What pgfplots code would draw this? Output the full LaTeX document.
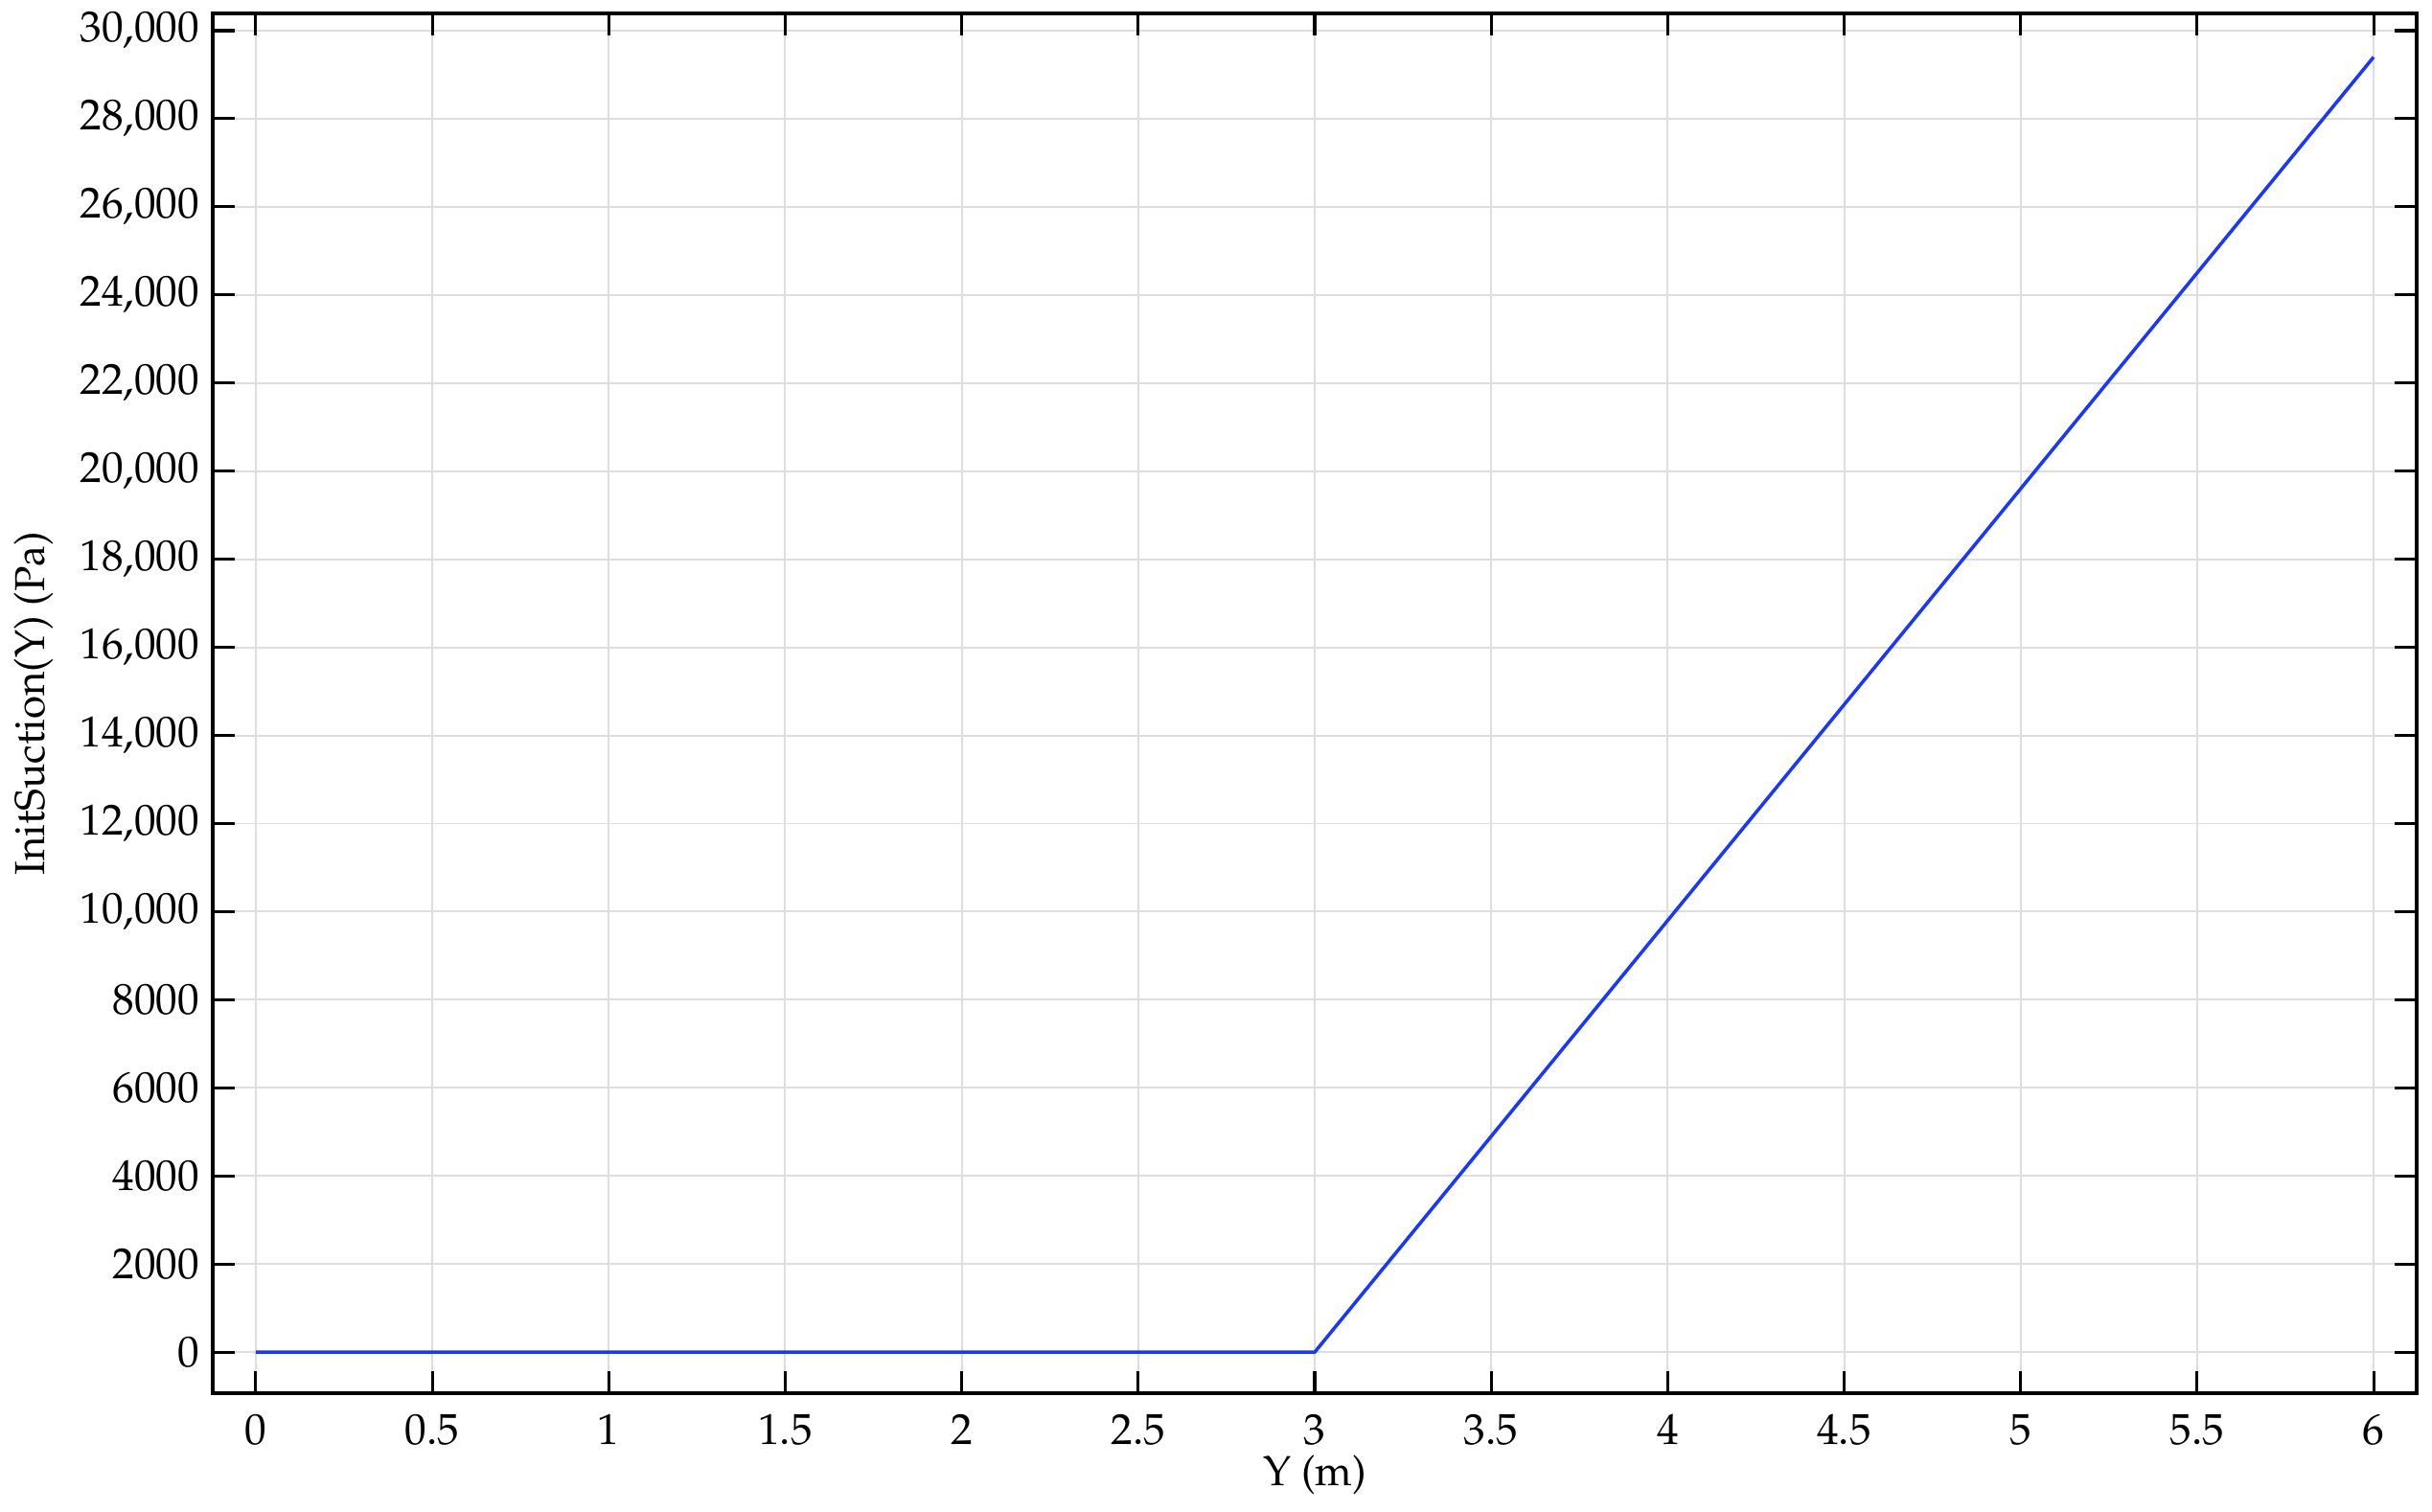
\documentclass[border=0pt]{standalone}
\usepackage[T1]{fontenc}
\usepackage{mathpazo}
\usepackage{pgfplots}
\pgfplotsset{compat=1.18}
\definecolor{lineblue}{RGB}{25,55,255}
\definecolor{gridgray}{RGB}{222,222,222}
\begin{document}
\begin{tikzpicture}
\begin{axis}[
  at={(0pt,0pt)}, anchor=south west,
  scale only axis,
  width=589pt, height=368.8pt,
  xmin=-0.122, xmax=6.122,
  ymin=-935, ymax=30390,
  xtick={0,0.5,...,6},
  ytick={0,2000,...,30000},
  scaled y ticks=false,
  /pgf/number format/assume math mode=true,
  /pgf/number format/1000 sep={,},
  /pgf/number format/min exponent for 1000 sep=4,
  tick align=inside,
  major tick length=5.9pt,
  every tick/.style={black, line width=0.8pt},
  axis line style={line width=0.9pt},
  grid=major,
  major grid style={gridgray, line width=0.5pt},
  tick label style={font=\fontsize{11.6}{13}\selectfont},
  xticklabel style={yshift=-2pt},
  xlabel={Y (m)},
  ylabel={InitSuction(Y) (Pa)},
  every axis x label/.style={at={(axis description cs:0.5,-0.059)}, anchor=center, font=\fontsize{11.2}{13}\selectfont},
  every axis y label/.style={at={(axis description cs:-0.0813,0.5)}, rotate=90, anchor=center, font=\fontsize{11.2}{13}\selectfont},
]
\addplot[lineblue, line width=0.9pt] coordinates {(0,0) (3,0) (6,29400)};
\end{axis}
\pgfresetboundingbox
\path (-56.85pt,-31.5pt) rectangle (593.1pt,372.4pt);
\end{tikzpicture}
\end{document}
